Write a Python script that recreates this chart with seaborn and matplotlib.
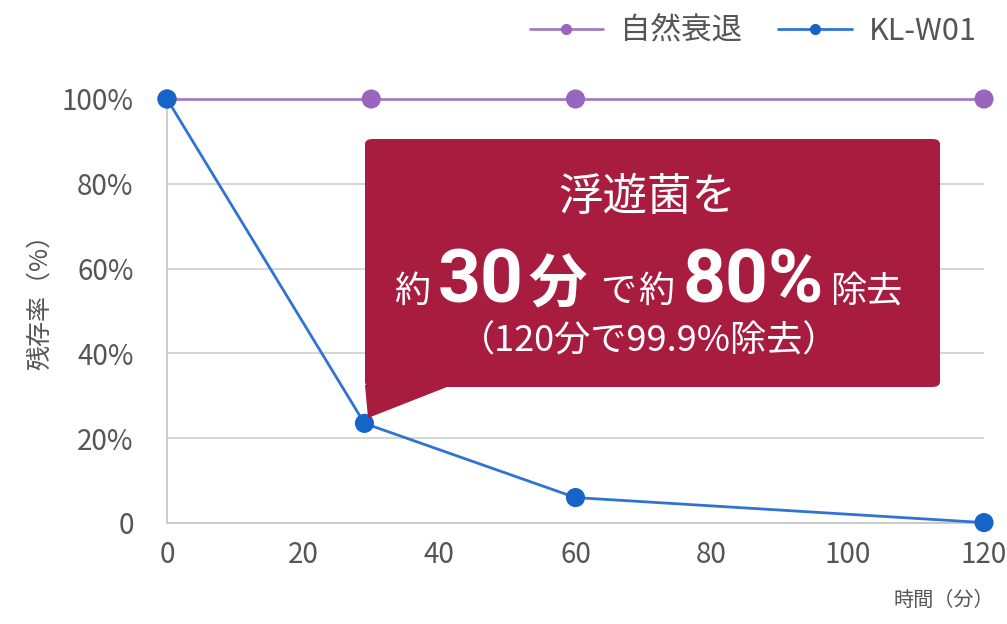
import numpy as np
import pandas as pd
import matplotlib
matplotlib.use("Agg")
import matplotlib.pyplot as plt
import seaborn as sns
from matplotlib.patches import FancyBboxPatch, Polygon
from matplotlib.lines import Line2D

# data
natural_minutes = [0, 30, 60, 120]
natural_rate = [100, 100, 100, 100]
klw01_minutes = [0, 29, 60, 120]
klw01_rate = [100, 23.5, 6.0, 0.1]

series_names = ["自然衰退", "KL-W01"]
x_ticks = [0, 20, 40, 60, 80, 100, 120]
y_ticks = [0, 20, 40, 60, 80, 100]
y_tick_labels = ["0", "20%", "40%", "60%", "80%", "100%"]

df = pd.concat(
    [
        pd.DataFrame({"minutes": natural_minutes, "rate": natural_rate, "series": series_names[0]}),
        pd.DataFrame({"minutes": klw01_minutes, "rate": klw01_rate, "series": series_names[1]}),
    ],
    ignore_index=True,
)

sns.set_style("white")
plt.rcParams["font.family"] = ["Noto Sans CJK JP", "DejaVu Sans"]

purple = "#a37cc2"
purple_dot = "#9866bf"
blue = "#2f74d0"
blue_dot = "#1565c8"
crimson = "#a81c3f"
text_gray = "#555555"

W, H = 1007, 624
fig = plt.figure(figsize=(W / 100, H / 100), dpi=100)
ax = fig.add_axes([167 / W, 1 - 523 / H, (984 - 167) / W, (523 - 99) / H])

palette = {series_names[0]: purple, series_names[1]: blue}
sns.lineplot(
    data=df, x="minutes", y="rate", hue="series", palette=palette,
    linewidth=2, legend=False, ax=ax, clip_on=False, zorder=3,
)
for name, color in [(series_names[0], purple_dot), (series_names[1], blue_dot)]:
    sub = df[df["series"] == name]
    ax.scatter(sub["minutes"], sub["rate"], s=190, color=color, zorder=4,
               clip_on=False, edgecolor="none")

ax.set_xlim(0, 120)
ax.set_ylim(0, 100)
ax.set_xticks(x_ticks)
ax.set_yticks(y_ticks)
ax.set_yticklabels(y_tick_labels)
ax.tick_params(axis="both", length=0, labelsize=20, colors=text_gray)
ax.tick_params(axis="x", pad=12)
ax.tick_params(axis="y", pad=24)
ax.grid(True, axis="y", color="#d2d2d2", linewidth=1.3)
for side in ["top", "right"]:
    ax.spines[side].set_visible(False)
for side in ["left", "bottom"]:
    ax.spines[side].set_color("#c8c8c8")
    ax.spines[side].set_linewidth(1.3)
ax.set_xlabel("")
ax.set_ylabel("")

fig.text(40 / W, 1 - 296 / H, "残存率（%）", rotation=90, ha="center", va="center",
         fontsize=18, color=text_gray)
fig.text(994 / W, 1 - 600 / H, "時間（分）", ha="right", va="center",
         fontsize=14.5, color=text_gray)

# legend
handles = [
    Line2D([0], [0], color=purple, lw=2, marker="o", markersize=7,
           markerfacecolor=purple_dot, markeredgecolor=purple_dot),
    Line2D([0], [0], color=blue, lw=2, marker="o", markersize=7,
           markerfacecolor=blue_dot, markeredgecolor=blue_dot),
]
fig.legend(handles, series_names, loc="center right", bbox_to_anchor=(1004 / W, 1 - 31 / H),
           ncol=2, frameon=False, fontsize=22, handlelength=2.4, handletextpad=0.55,
           columnspacing=1.2, labelcolor=text_gray)

# callout box
px = lambda x, y: (x / W, 1 - y / H)
box = FancyBboxPatch(px(365, 387), (940 - 365) / W, (387 - 139) / H,
                     boxstyle="round,pad=0,rounding_size=0.008",
                     transform=fig.transFigure, facecolor=crimson, edgecolor="none", zorder=5)
fig.patches.append(box)
tip = Polygon([px(365, 385), px(452, 385), px(368, 418)], closed=True,
              transform=fig.transFigure, facecolor=crimson, edgecolor="none", zorder=5)
fig.patches.append(tip)

fig.text(*px(647, 197), "浮遊菌を", ha="center", va="center", fontsize=32,
         color="white", zorder=6)

# middle line: mixed sizes laid out one after another
num_font = ["Roboto", "Noto Sans CJK JP"]
pieces = [
    ("約", 26, "normal", None, 8),
    ("30", 54, "bold", num_font, 4),
    ("分", 42, "bold", None, 14),
    ("で", 26, "normal", None, 2),
    ("約", 26, "normal", None, 8),
    ("80%", 54, "bold", num_font, 6),
    ("除去", 26, "normal", None, 0),
]
renderer = fig.canvas.get_renderer()
texts = []
for s, size, weight, fam, gap in pieces:
    kw = {} if fam is None else {"family": fam}
    t = fig.text(0, 1 - 302 / H, s, ha="left", va="baseline", fontsize=size,
                 fontweight=weight, color="white", zorder=6, **kw)
    texts.append((t, gap))
widths = [t.get_window_extent(renderer).width for t, _ in texts]
total = sum(widths) + sum(g for _, g in texts)
x = 648 - total / 2
for (t, gap), w in zip(texts, widths):
    t.set_x(x / W)
    x += w + gap

fig.text(*px(649, 342), "（120分で99.9%除去）", ha="center", va="center", fontsize=26,
         color="white", zorder=6)

fig.savefig("out.png", dpi=100)
